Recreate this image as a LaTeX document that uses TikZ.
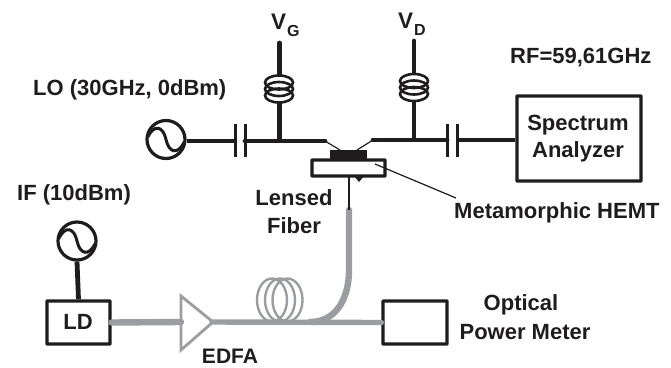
\documentclass[tikz,border=0pt]{standalone}
\usepackage{fontspec}
\setmainfont{Liberation Sans}
\definecolor{fib}{RGB}{155,157,160}
\definecolor{ink}{RGB}{30,28,28}
\tikzset{
  x=1pt,y=-1pt,
  wire/.style={draw=ink,line width=4.8pt},
  plate/.style={draw=ink,line width=3pt},
  thinw/.style={draw=ink,line width=1.2pt},
  fibw/.style={draw=fib,line width=6.4pt},
  fibh/.style={draw=fib,line width=5.4pt},
  fibthin/.style={draw=fib,line width=2.4pt},
  osc/.style={circle,draw=ink,line width=3.2pt,minimum size=38pt,inner sep=0pt},
  boxn/.style={rectangle,draw=ink,line width=3.2pt,inner sep=0pt,rounded corners=0.5pt},
  lab/.style={font=\bfseries\fontsize{22}{22}\selectfont,text=ink,inner sep=0pt,align=center},
  ring/.style={draw=ink,line width=2.6pt},
  pics/sine/.style={code={\draw[draw=ink,line width=3pt] (-18,-3) .. controls (-12,-15) and (-3,-14) .. (0,0) .. controls (3,14) and (12,15) .. (18,3);}},
  pics/coil/.style={code={
    \foreach \yy in {-6.5,0,6.5}{\draw[ring] (0,\yy) ellipse [x radius=14,y radius=7];}}},
}
\begin{document}
\begin{tikzpicture}
\useasboundingbox (0,0) rectangle (671,367);
% fibre
\node[boxn,minimum width=63pt,minimum height=43pt] (ld) at (78.5,322.5) {};
\node[boxn,minimum width=64pt,minimum height=43pt] (opm) at (415,322.5) {};
\coordinate (tipT) at (349,210);
\coordinate (fibJ) at (310,322);
\coordinate (ampIn) at (181,322);
\coordinate (ampOut) at (212,322);
\foreach \cx in {272,280,287.5}{\draw[fibthin] (\cx,300) ellipse [x radius=15,y radius=21.5];}
\draw[fibw,line cap=round] (ld.east) -- (ampIn);
\draw[fibh,line cap=round] (ampOut) -- (opm.west);
\draw[fibw,line cap=round] (tipT) -- (349,270) .. controls (349,300) and (335,322) .. (fibJ);
\draw[draw=fib,line width=2.8pt,line join=miter] (181,296) -- (213,322) -- (181,350) -- cycle;
% LD bias
\node[osc] (oscIF) at (77,241) {};
\pic at (oscIF) {sine};
\draw[wire] (oscIF.south) -- (ld.north);
% LO side
\node[osc] (oscLO) at (166,139.5) {};
\pic at (oscLO) {sine};
\coordinate (c1a) at (235,141); \coordinate (c1b) at (245,141);
\coordinate (g) at (325,141); \coordinate (gt) at (279.5,141);
\draw[wire] (oscLO.east |- c1a) -- (c1a);
\draw[wire,line cap=round] (c1b) -- (g);
\draw[plate] (235,124) -- (235,157);
\draw[plate] (245,124) -- (245,157);
% drain side
\node[boxn,minimum width=124pt,minimum height=85pt] (sa) at (579,138.5) {};
\coordinate (c2a) at (447,140); \coordinate (c2b) at (457,140);
\coordinate (d) at (373,140); \coordinate (dt) at (414,140);
\draw[wire,line cap=round] (d) -- (c2a);
\draw[wire] (c2b) -- (sa.west |- c2b);
\draw[plate] (447,124) -- (447,157);
\draw[plate] (457,124) -- (457,157);
% bias tees
\pic at (279,89) {coil};
\pic at (414,87.5) {coil};
\coordinate (gi) at (279.5,103); \coordinate (gu) at (279.5,74); \coordinate (gv) at (279.5,43);
\coordinate (di) at (414,102); \coordinate (du) at (414,72); \coordinate (dv) at (414,41);
\draw[wire] (gt) -- (gi);
\draw[wire,line cap=round] (gu) -- (gv);
\draw[wire] (dt) -- (di);
\draw[wire,line cap=round] (du) -- (dv);
% device
\node[rectangle,fill=ink,minimum width=37pt,minimum height=10pt,inner sep=0pt] (chip) at (348.5,155) {};
\node[boxn,fill=white,minimum width=73pt,minimum height=16pt] (sub) at (348.5,168) {};
\fill[ink] (354,176) -- (364,176) -- (359,182) -- cycle;
\coordinate (cg) at (340,150); \coordinate (cd) at (357,150);
\draw[thinw] (g) -- (cg);
\draw[thinw] (d) -- (cd);
\draw[thinw] (349,177) -- (tipT);
\coordinate (mh) at (456,198);
\draw[thinw] (375,164) -- (mh);
% labels
\node[lab,anchor=west,font=\bfseries\fontsize{22.5}{22.5}\selectfont] (vg) at (271,22) {V};
\node[lab,anchor=west,font=\bfseries\fontsize{16}{16}\selectfont] (vgs) at (287,31) {G};
\node[lab,anchor=west,font=\bfseries\fontsize{22.5}{22.5}\selectfont] (vd) at (398,21) {V};
\node[lab,anchor=west,font=\bfseries\fontsize{16}{16}\selectfont] (vds) at (414,30) {D};
\node[lab,anchor=west] (rf) at (510,58) {RF=59,61GHz};
\node[lab,anchor=west] (lo) at (33,90) {LO (30GHz, 0dBm)};
\node[lab,anchor=west] (if) at (17,195) {IF (10dBm)};
\node[lab] (lf1) at (294,198) {Lensed};
\node[lab] (lf2) at (294,226) {Fiber};
\node[lab,anchor=west] (mt) at (454,213) {Metamorphic HEMT};
\node[lab] (sa1) at (578,125) {Spectrum};
\node[lab] (sa2) at (578,152) {Analyzer};
\node[lab] (ldt) at (78,322) {LD};
\node[lab] (op1) at (521,305) {Optical};
\node[lab] (op2) at (525,332) {Power Meter};
\node[lab,font=\bfseries\fontsize{21}{21}\selectfont] (edfa) at (230,356.5) {EDFA};
\end{tikzpicture}
\end{document}
